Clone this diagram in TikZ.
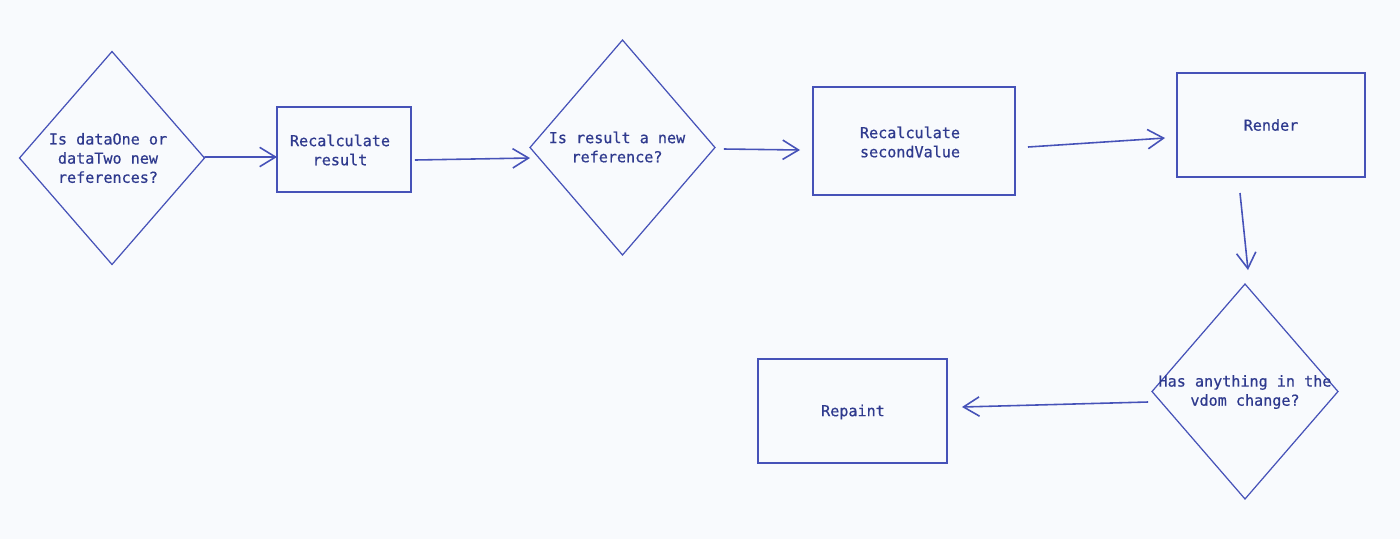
\documentclass[tikz,border=0pt]{standalone}
\usepackage{fontspec}
\setmainfont{DejaVu Sans Mono}[RawFeature={embolden=0.6}]
\usetikzlibrary{shapes.geometric,arrows.meta,calc}
\definecolor{bg}{HTML}{F8FAFD}
\definecolor{ln}{HTML}{4652B8}
\definecolor{tx}{HTML}{2F3A8E}
\begin{document}
\begin{tikzpicture}[x=0.02cm,y=-0.02cm,
  shp/.style={draw=ln,inner sep=0pt,outer sep=0pt},
  dia/.style={shp,diamond,line width=0.7pt},
  box/.style={shp,rectangle,line width=0.95pt},
  txt/.style={text=tx,font=\fontsize{8.6}{10.9}\selectfont,align=center,inner sep=0pt},
  arr/.style={draw=ln,line width=0.9pt,-{Straight Barb[length=9pt,width=11pt]}}]
\fill[bg] (0,0) rectangle (1400,539);
\useasboundingbox (0,0) rectangle (1400,539);
% shapes
\node[dia,minimum width=3.7cm,minimum height=4.26cm] (d1) at (112,158) {};
\node[box,minimum width=2.68cm,minimum height=1.7cm] (r1) at (344,149.5) {};
\node[dia,minimum width=3.7cm,minimum height=4.3cm] (d2) at (622.5,147.5) {};
\node[box,minimum width=4.04cm,minimum height=2.16cm] (r2) at (914,141) {};
\node[box,minimum width=3.76cm,minimum height=2.08cm] (r3) at (1271,125) {};
\node[dia,minimum width=3.72cm,minimum height=4.3cm] (d3) at (1245,391.5) {};
\node[box,minimum width=3.78cm,minimum height=2.08cm] (r4) at (852.5,411) {};
% texts
\node[txt] (t1) at (108,158) {Is dataOne or\\dataTwo new\\references?};
\node[txt] (t2) at (340,150) {Recalculate\\result};
\node[txt] (t3) at (617,147) {Is result a new\\reference?};
\node[txt] (t4) at (910,142) {Recalculate\\secondValue};
\node[txt] (t5) at (1271,125) {Render};
\node[txt] (t6) at (1245,392) {Has anything in the\\vdom change?};
\node[txt] (t7) at (853,412) {Repaint};
% connectors
\draw[arr] ($(d1.east)+(0,-1)$) -- ($(r1.west)+(0,7.5)$);
\draw[arr] ($(r1.east)+(4,10.5)$) -- ($(d2.west)+(0,10.5)$);
\draw[arr] ($(d2.east)+(9,1.5)$) -- ($(r2.west)+(-13,9)$);
\draw[arr] ($(r2.east)+(13,6)$) -- ($(r3.west)+(-12,13)$);
\draw[arr] ($(r3.south)+(-31,16)$) -- ($(d3.north)+(3,-14)$);
\draw[arr] ($(d3.west)+(-4,10.5)$) -- ($(r4.east)+(15,-4)$);
\end{tikzpicture}
\end{document}
